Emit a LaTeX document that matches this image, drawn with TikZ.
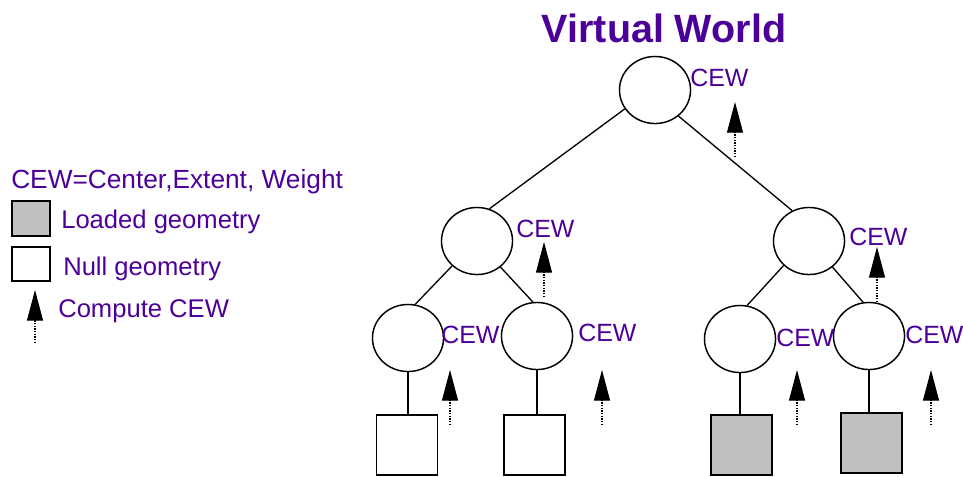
\documentclass[tikz,border=0pt]{standalone}
\usepackage{fontspec}
\setmainfont{Liberation Sans}
\usetikzlibrary{shapes.geometric,arrows.meta}
\definecolor{cewpurple}{RGB}{76,0,153}
\definecolor{geomgray}{RGB}{192,192,192}
\tikzset{
  treenode/.style={ellipse,draw,line width=1.1pt,minimum width=53.3pt,minimum height=50.3pt,inner sep=0pt},
  geombox/.style={rectangle,draw,line width=1.1pt,minimum width=45.8pt,minimum height=45pt,inner sep=0pt},
  loaded/.style={geombox,fill=geomgray},
  nullgeo/.style={geombox,fill=white},
  branch/.style={line width=1pt},
  cewlabel/.style={anchor=base west,inner sep=0pt,text=cewpurple,font=\fontsize{18.7}{22}\selectfont},
  legendtext/.style={anchor=base west,inner sep=0pt,text=cewpurple,font=\fontsize{19.2}{23}\selectfont},
  compute/.style={line width=0.8pt,dash pattern=on 1pt off 1pt,-{Triangle[length=23pt,width=12pt]}}
}
\begin{document}
\begin{tikzpicture}[x=0.75pt,y=-0.75pt]
\useasboundingbox (0,0) rectangle (963,476);

% title
\node[anchor=base,inner sep=0pt,text=cewpurple,font=\fontsize{29.6}{34}\selectfont\bfseries] (title) at (664,42) {Virtual World};

% legend
\node[legendtext,font=\fontsize{19.7}{23}\selectfont] (legcew) at (11,188) {CEW=Center,Extent, Weight};
\node[loaded,minimum width=28.5pt,minimum height=26.3pt] (legload) at (31,218.5) {};
\node[legendtext] (legloadtxt) at (61,228) {Loaded geometry};
\node[nullgeo,minimum width=28.5pt,minimum height=25.5pt] (legnull) at (31,264) {};
\node[legendtext] (legnulltxt) at (63,275) {Null geometry};
\coordinate (legtail) at (35,343);
\coordinate (legtip) at (35,290);
\draw[compute] (legtail) -- (legtip);
\node[legendtext] (legcomptxt) at (58,317) {Compute CEW};

% tree
\node[treenode] (root) at (655,90) {};
\node[treenode] (la) at (477,241) {};
\node[treenode] (lb) at (809,241) {};
\node[treenode] (ma) at (408,338) {};
\node[treenode] (mb) at (537,336) {};
\node[treenode] (mc) at (740,339) {};
\node[treenode] (md) at (869,336) {};

\node[nullgeo] (sa) at (407,445) {};
\node[nullgeo] (sb) at (534.5,445) {};
\node[loaded] (sc) at (741.5,445) {};
\node[loaded] (sd) at (871.5,443) {};

\draw[branch] (root.212) -- (la.69);
\draw[branch] (root.-48.5) -- (lb.119);
\draw[branch] (la.-135) -- (ma.78);
\draw[branch] (la.-48) -- (mb.97);
\draw[branch] (lb.-136) -- (mc.78);
\draw[branch] (lb.-48) -- (md.100);
\draw[branch] (ma.south) -- (ma.south |- sa.north);
\draw[branch] (mb.south) -- (mb.south |- sb.north);
\draw[branch] (mc.south) -- (mc.south |- sc.north);
\draw[branch] (md.south) -- (md.south |- sd.north);

% CEW labels
\node[cewlabel] (cewroot) at (690,86) {CEW};
\node[cewlabel] (cewla) at (516,237) {CEW};
\node[cewlabel] (cewlb) at (849,245) {CEW};
\node[cewlabel] (cewma) at (441,343) {CEW};
\node[cewlabel] (cewmb) at (578,341) {CEW};
\node[cewlabel] (cewmc) at (776,346) {CEW};
\node[cewlabel] (cewmd) at (905,343) {CEW};

% upward computation arrows
\coordinate (rtail) at (735,157);  \coordinate (rtip) at (735,102);
\coordinate (latail) at (544,297); \coordinate (latip) at (544,242);
\coordinate (lbtail) at (877,302); \coordinate (lbtip) at (877,247);
\coordinate (matail) at (450,425); \coordinate (matip) at (450,370);
\coordinate (mbtail) at (602,425); \coordinate (mbtip) at (602,370);
\coordinate (mctail) at (797,425); \coordinate (mctip) at (797,370);
\coordinate (mdtail) at (931,425); \coordinate (mdtip) at (931,370);
\draw[compute] (rtail) -- (rtip);
\draw[compute] (latail) -- (latip);
\draw[compute] (lbtail) -- (lbtip);
\draw[compute] (matail) -- (matip);
\draw[compute] (mbtail) -- (mbtip);
\draw[compute] (mctail) -- (mctip);
\draw[compute] (mdtail) -- (mdtip);
\end{tikzpicture}
\end{document}
